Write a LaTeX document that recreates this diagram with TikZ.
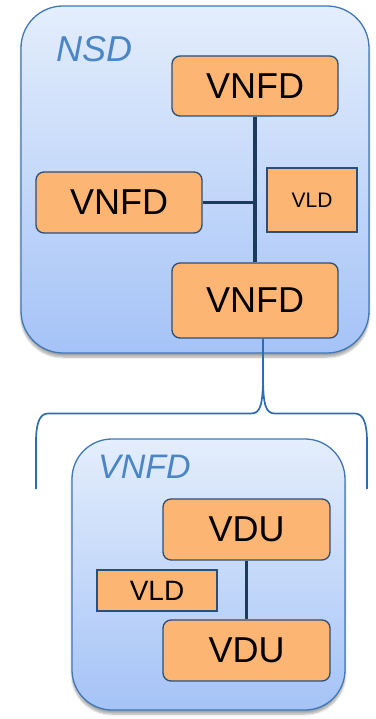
\documentclass[tikz,border=0pt]{standalone}
\usepackage{fontspec}
\setmainfont{Liberation Sans}
\usetikzlibrary{shadows.blur,calc}
\definecolor{boxline}{HTML}{3F78B5}
\definecolor{boxtop}{HTML}{E4EEFC}
\definecolor{boxbot}{HTML}{A5C3F7}
\definecolor{orangefill}{HTML}{FDB574}
\definecolor{orangeline}{HTML}{2B4F78}
\definecolor{linkcol}{HTML}{1B3A5C}
\definecolor{bracecol}{HTML}{2E6DB0}
\definecolor{labelcol}{HTML}{4A86C6}
\tikzset{
  container/.style={draw=boxline, line width=1.3pt, top color=boxtop, bottom color=boxbot,
    blur shadow={shadow xshift=0pt, shadow yshift=-4pt, shadow blur steps=8, shadow opacity=35}},
  orangebox/.style={draw=orangeline, line width=1.3pt, fill=orangefill, rounded corners=8pt, text=black},
  vldbox/.style={draw=orangeline, line width=1.2pt, fill=orangefill, text=black},
  link/.style={draw=linkcol, line width=3.4pt},
  bracepath/.style={draw=bracecol, line width=1.7pt},
  ttl/.style={text=labelcol, font=\itshape}
}
\begin{document}
\begin{tikzpicture}[x=1pt,y=-1pt]
\useasboundingbox (0,0) rectangle (375,719);
% NSD container
\node[container, rounded corners=42pt, minimum width=348pt, minimum height=347pt] (nsd) at (195,179.5) {};
\node[ttl, anchor=base west, inner sep=0pt, font=\itshape\fontsize{36}{40}\selectfont] (nsdlbl) at (56,62) {NSD};
\node[orangebox, minimum width=166pt, minimum height=60pt, font=\fontsize{36}{40}\selectfont] (tv) at (255,86) {VNFD};
\node[orangebox, minimum width=166pt, minimum height=61pt, font=\fontsize{36}{40}\selectfont] (lv) at (119,202.5) {VNFD};
\node[vldbox, minimum width=90pt, minimum height=64pt, font=\fontsize{21}{24}\selectfont] (vld1) at (312,200) {VLD};
\node[orangebox, minimum width=166pt, minimum height=75pt, font=\fontsize{36}{40}\selectfont] (bv) at (255,300.5) {VNFD};
\coordinate (j) at (255,202.5);
\draw[link] (tv.south) -- (bv.north);
\draw[link] (lv.east) -- (j);
% VNFD container
\node[container, rounded corners=40pt, minimum width=273pt, minimum height=271pt] (vnfd) at (208.5,574.5) {};
\node[ttl, anchor=base west, inner sep=0pt, font=\itshape\fontsize{34}{40}\selectfont] (vnfdlbl) at (98,478) {VNFD};
\node[orangebox, minimum width=167pt, minimum height=61pt, font=\fontsize{36}{40}\selectfont] (vdu1) at (246.5,529.5) {VDU};
\node[vldbox, minimum width=120pt, minimum height=41pt, font=\fontsize{28}{32}\selectfont] (vld2) at (157,590.5) {VLD};
\node[orangebox, minimum width=167pt, minimum height=61pt, font=\fontsize{36}{40}\selectfont] (vdu2) at (246.5,650.5) {VDU};
\draw[link] (vdu1.south) -- (vdu2.north);
% brace
\coordinate (bt) at (263,376);
\coordinate (bl) at (36,489);
\coordinate (br) at (367,489);
\draw[bracepath] ([xshift=8pt]bv.south) -- (bt)
  .. controls (263,406) and (260,413.5) .. (251,413.5) -- (48,413.5)
  .. controls (39,413.5) and (36,425) .. (36,442) -- (bl);
\draw[bracepath] (bt)
  .. controls (263,406) and (266,413.5) .. (275,413.5) -- (355,413.5)
  .. controls (364,413.5) and (367,425) .. (367,442) -- (br);
\end{tikzpicture}
\end{document}
